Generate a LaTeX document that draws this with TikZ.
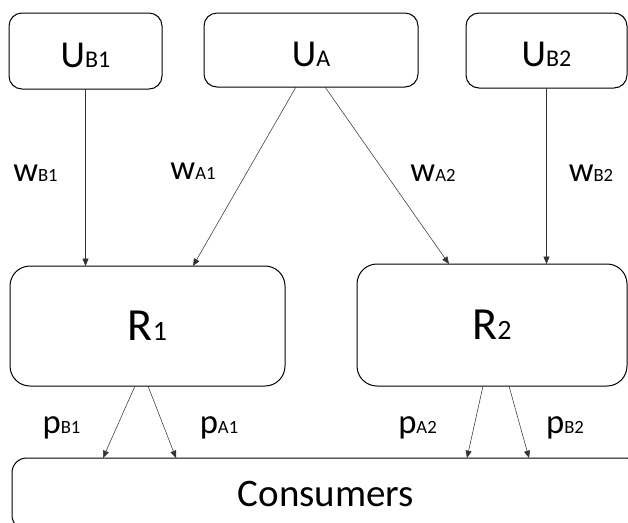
\documentclass[tikz,border=0pt]{standalone}
\usepackage{fontspec}
\setmainfont{Carlito}
\usetikzlibrary{arrows.meta}
\newcommand{\subtxt}[2]{{\fontsize{#1}{#1}\selectfont #2}}
\tikzset{
  upbox/.style={draw, line width=0.75pt, rounded corners=9.75pt, inner sep=0pt, outer sep=0pt, text height=24pt, text depth=0pt, font=\fontsize{28.5}{30}\selectfont},
  retbox/.style={draw, line width=0.75pt, rounded corners=15pt, inner sep=0pt, outer sep=0pt, font=\fontsize{34.5}{36}\selectfont},
  consbox/.style={draw, line width=0.75pt, rounded corners=11pt, inner sep=0pt, outer sep=0pt, font=\fontsize{29.25}{32}\selectfont},
  price/.style={anchor=base, inner sep=0pt, font=\fontsize{26}{28}\selectfont},
  flow/.style={-{Triangle[length=5.5pt,width=4.5pt]}, line width=0.4pt, color=black!80}
}
\begin{document}
\begin{tikzpicture}[x=0.75pt,y=0.75pt,yscale=-1,xscale=1]
        \useasboundingbox (0,0) rectangle (628,522);
        \clip (0,0) rectangle (628,522);
        % Upstream boxes
        \draw (85.5,51) node [upbox, minimum width=114.75pt, minimum height=57pt] (UB1) {U\subtxt{18}{B1}};
        \draw (311,50) node [upbox, minimum width=160.5pt, minimum height=55.5pt] (UA) {U\subtxt{18}{A}};
        \draw (546.5,50.5) node [upbox, minimum width=120.75pt, minimum height=56.25pt] (UB2) {U\subtxt{18}{B2}};
        % Retailer boxes
        \draw (147.5,326) node [retbox, minimum width=206.25pt, minimum height=90pt] (R1) {R\subtxt{21}{1}};
        \draw (492,325) node [retbox, minimum width=202.5pt, minimum height=91.5pt] (R2) {R\subtxt{21}{2}};
        % Consumers
        \draw (326,494) node [consbox, minimum width=471pt, minimum height=54pt] (Cons) {Consumers};
        % Text Node
        \draw (35.5,181) node [price] (wB1) {w\subtxt{14}{B1}};
        \draw (193,179) node [price] (wA1) {w\subtxt{14}{A1}};
        \draw (433,181) node [price] (wA2) {w\subtxt{14}{A2}};
        \draw (591,181) node [price] (wB2) {w\subtxt{14}{B2}};
        \draw (61.5,433) node [price] (pB1) {p\subtxt{14}{B1}};
        \draw (219,433) node [price] (pA1) {p\subtxt{14}{A1}};
        \draw (417.5,433) node [price] (pA2) {p\subtxt{14}{A2}};
        \draw (565,433) node [price] (pB2) {p\subtxt{14}{B2}};
        % Connection
        \draw [flow] (UB1.south) -- (UB1.south |- R1.north);
        \draw [flow] ([xshift=-11.25pt]UA.south) -- (193,0 |- R1.north);
        \draw [flow] ([xshift=10.5pt]UA.south) -- (449,0 |- R2.north);
        \draw [flow] (UB2.south) -- (UB2.south |- R2.north);
        % Connection
        \draw [flow] ([xshift=-9.4pt]R1.south) -- (103,0 |- Cons.north);
        \draw [flow] ([xshift=0.4pt]R1.south) -- (176,0 |- Cons.north);
        \draw [flow] ([xshift=-6.75pt]R2.south) -- (467,0 |- Cons.north);
        \draw [flow] ([xshift=12.75pt]R2.south) -- (529,0 |- Cons.north);
\end{tikzpicture}
\end{document}
